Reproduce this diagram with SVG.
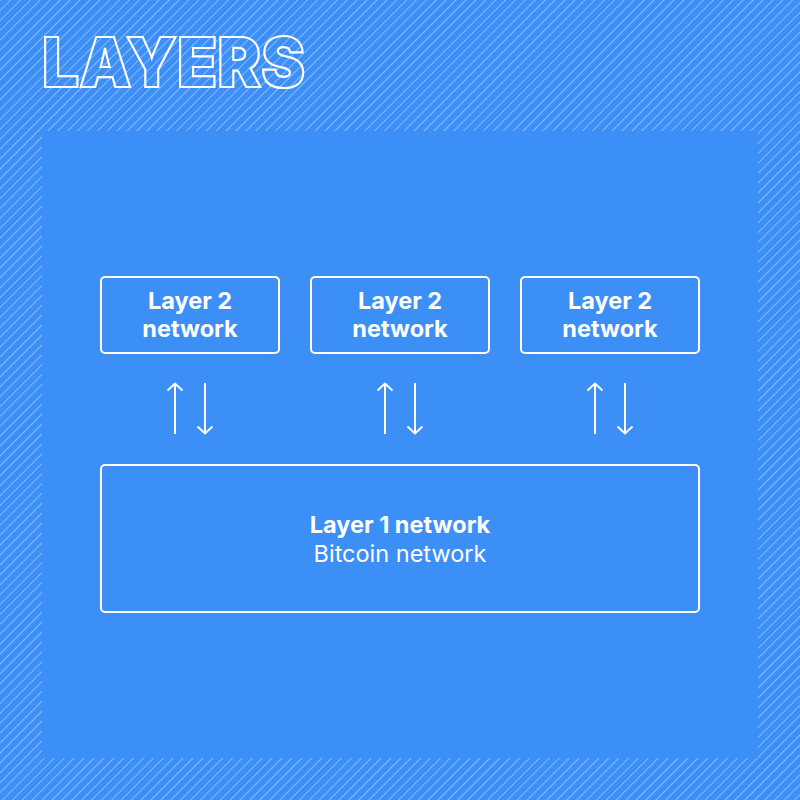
<svg xmlns="http://www.w3.org/2000/svg" width="800" height="800" viewBox="0 0 800 800">
<defs>
<pattern id="hatch" patternUnits="userSpaceOnUse" width="7" height="7" patternTransform="rotate(45)">
<rect width="7" height="7" fill="#3d8ff8"/>
<line x1="0" y1="0" x2="0" y2="7" stroke="#a9cdfb" stroke-width="1.4"/>
</pattern>
<marker id="head" viewBox="0 0 10 18" refX="9" refY="9" markerWidth="10" markerHeight="18" markerUnits="userSpaceOnUse" orient="auto">
<path d="M1.5,1.5 L8.5,9 L1.5,16.5" fill="none" stroke="#ffffff" stroke-width="2"/>
</marker>
<style>
.box{fill:none;stroke:#ffffff;stroke-width:2}
.t{font-family:Inter,"Liberation Sans",sans-serif;fill:#ffffff;text-anchor:middle;font-size:23.5px}
.b{font-weight:700}
.r{font-weight:400}
.arr{stroke:#ffffff;stroke-width:2;fill:none}
</style>
</defs>
<rect width="800" height="800" fill="url(#hatch)"/>
<rect x="42" y="131" width="716" height="627" fill="#3d8ff8"/>
<text x="42" y="87" font-family="Inter,'Liberation Sans',sans-serif" font-weight="900" font-size="69" fill="none" stroke="#ffffff" stroke-width="2.2" textLength="263" lengthAdjust="spacingAndGlyphs">LAYERS</text>
<g id="l2a">
<rect class="box" x="101" y="277" width="178" height="76" rx="4"/>
<text class="t b" x="190" y="309">Layer 2</text>
<text class="t b" x="190" y="337">network</text>
</g>
<g id="l2b">
<rect class="box" x="311" y="277" width="178" height="76" rx="4"/>
<text class="t b" x="400" y="309">Layer 2</text>
<text class="t b" x="400" y="337">network</text>
</g>
<g id="l2c">
<rect class="box" x="521" y="277" width="178" height="76" rx="4"/>
<text class="t b" x="610" y="309">Layer 2</text>
<text class="t b" x="610" y="337">network</text>
</g>
<g id="l1">
<rect class="box" x="101" y="465" width="598" height="147" rx="4"/>
<text class="t b" x="400" y="533">Layer 1 network</text>
<text class="t r" x="400" y="562">Bitcoin network</text>
</g>
<g id="connectors">
<line class="arr" x1="175" y1="434" x2="175" y2="383" marker-end="url(#head)"/>
<line class="arr" x1="205" y1="383" x2="205" y2="434" marker-end="url(#head)"/>
<line class="arr" x1="385" y1="434" x2="385" y2="383" marker-end="url(#head)"/>
<line class="arr" x1="415" y1="383" x2="415" y2="434" marker-end="url(#head)"/>
<line class="arr" x1="595" y1="434" x2="595" y2="383" marker-end="url(#head)"/>
<line class="arr" x1="625" y1="383" x2="625" y2="434" marker-end="url(#head)"/>
</g>
</svg>
